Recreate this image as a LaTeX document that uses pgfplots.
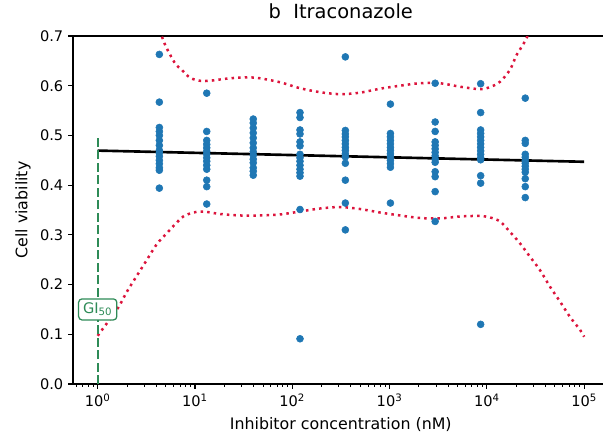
\documentclass[border=0pt]{standalone}
\usepackage{fontspec}
\setmainfont{DejaVu Sans}
\usepackage{pgfplots}
\usepackage{pgfplotstable}
\pgfplotsset{compat=1.18}
\definecolor{tabblue}{HTML}{1F77B4}
\definecolor{crim}{HTML}{DC143C}
\definecolor{sgreen}{HTML}{2E8B57}

\pgfplotstableread{
x y
4.3 0.663
4.3 0.567
4.3 0.516
4.3 0.508
4.3 0.500
4.3 0.490
4.3 0.480
4.3 0.470
4.3 0.465
4.3 0.458
4.3 0.450
4.3 0.443
4.3 0.435
4.3 0.430
4.3 0.394
13.2 0.585
13.2 0.508
13.2 0.490
13.2 0.482
13.2 0.475
13.2 0.468
13.2 0.462
13.2 0.455
13.2 0.448
13.2 0.440
13.2 0.432
13.2 0.410
13.2 0.397
13.2 0.362
39.7 0.533
39.7 0.525
39.7 0.515
39.7 0.505
39.7 0.495
39.7 0.485
39.7 0.475
39.7 0.467
39.7 0.460
39.7 0.452
39.7 0.445
39.7 0.435
39.7 0.428
39.7 0.420
120 0.546
120 0.536
120 0.511
120 0.503
120 0.487
120 0.479
120 0.462
120 0.455
120 0.448
120 0.440
120 0.432
120 0.425
120 0.418
120 0.351
120 0.091
351 0.658
351 0.510
351 0.503
351 0.497
351 0.490
351 0.483
351 0.476
351 0.470
351 0.463
351 0.457
351 0.444
351 0.410
351 0.364
351 0.310
1020 0.563
1020 0.504
1020 0.497
1020 0.490
1020 0.483
1020 0.476
1020 0.470
1020 0.463
1020 0.457
1020 0.450
1020 0.443
1020 0.436
1020 0.364
2940 0.605
2940 0.527
2940 0.508
2940 0.487
2940 0.480
2940 0.473
2940 0.466
2940 0.459
2940 0.452
2940 0.446
2940 0.427
2940 0.417
2940 0.387
2940 0.327
8630 0.604
8630 0.546
8630 0.511
8630 0.504
8630 0.497
8630 0.490
8630 0.483
8630 0.476
8630 0.469
8630 0.462
8630 0.455
8630 0.451
8630 0.419
8630 0.404
8630 0.120
24800 0.575
24800 0.490
24800 0.484
24800 0.462
24800 0.456
24800 0.450
24800 0.444
24800 0.438
24800 0.432
24800 0.426
24800 0.413
24800 0.397
24800 0.375
}\pointsdata

\pgfplotstableread{
L v
0.00 1.02
0.30 0.88
0.50 0.775
0.657 0.700
0.70 0.679
0.795 0.645
0.863 0.632
0.949 0.616
1.051 0.610
1.154 0.610
1.36 0.615
1.565 0.617
1.668 0.615
1.874 0.607
2.079 0.595
2.285 0.587
2.49 0.583
2.696 0.586
2.901 0.594
3.107 0.600
3.31 0.605
3.518 0.605
3.724 0.598
3.929 0.593
4.03 0.597
4.135 0.608
4.237 0.632
4.306 0.662
4.39 0.689
4.50 0.735
4.70 0.83
5.00 0.98
}\upperband

\pgfplotstableread{
L v
0.0 0.097
0.086 0.12
0.212 0.154
0.298 0.185
0.40 0.217
0.503 0.249
0.606 0.281
0.709 0.303
0.794 0.321
0.88 0.337
0.983 0.345
1.085 0.347
1.257 0.342
1.462 0.339
1.668 0.339
1.874 0.341
2.079 0.347
2.285 0.353
2.49 0.356
2.696 0.352
2.901 0.345
3.107 0.339
3.31 0.334
3.518 0.333
3.724 0.337
3.929 0.338
4.032 0.335
4.135 0.327
4.237 0.306
4.34 0.283
4.443 0.256
4.546 0.229
4.648 0.196
4.751 0.166
4.854 0.135
4.957 0.109
5.0 0.095
}\lowerband

\begin{document}
\begin{tikzpicture}
\useasboundingbox (-52.56pt,-37.44pt) rectangle (381.6pt,276.48pt);
\begin{axis}[
  scale only axis,
  width=385.56pt, height=250.56pt,
  xmode=log, log basis x=10,
  xmin=0.5572, xmax=177828,
  ymin=0, ymax=0.7,
  axis line style={line width=0.8pt},
  tick align=outside,
  tick pos=left,
  major tick length=3.5pt,
  minor tick length=2pt,
  every tick/.style={black, line width=0.8pt},
  every minor tick/.style={black, line width=0.6pt},
  tick label style={font=\fontsize{10.5}{12}\selectfont},
  xtick={1,10,100,1000,10000,100000},
  xticklabels={10\textsuperscript{0},10\textsuperscript{1},10\textsuperscript{2},10\textsuperscript{3},10\textsuperscript{4},10\textsuperscript{5}},
  minor xtick={0.6,0.7,0.8,0.9,2,3,4,5,6,7,8,9,20,30,40,50,60,70,80,90,200,300,400,500,600,700,800,900,2000,3000,4000,5000,6000,7000,8000,9000,20000,30000,40000,50000,60000,70000,80000,90000},
  ytick={0,0.1,0.2,0.3,0.4,0.5,0.6,0.7},
  yticklabel style={/pgf/number format/.cd, fixed, fixed zerofill, precision=1, assume math mode=true},
  title={b\ \ Itraconazole},
  title style={font=\fontsize{14}{16}\selectfont, at={(axis description cs:0.5,1)}, anchor=base, yshift=6.7pt},
  xlabel={Inhibitor concentration (nM)},
  xlabel style={font=\fontsize{11.4}{13}\selectfont, at={(axis description cs:0.5,0)}, anchor=base, yshift=-33.1pt},
  ylabel={Cell viability},
  ylabel style={font=\fontsize{11.4}{13}\selectfont, at={(axis description cs:-0.0853,0.5)}, anchor=base},
]
\addplot[only marks, mark=*, mark size=2.5pt, color=tabblue, mark options={draw=tabblue, fill=tabblue}] table[x=x, y=y] {\pointsdata};
\addplot[black, line width=1.9pt] coordinates {(1,0.4695) (100000,0.447)};
\addplot[crim, line width=1.8pt, dash pattern=on 1.8pt off 2.97pt, smooth] table[x expr=10^\thisrow{L}, y=v] {\upperband};
\addplot[crim, line width=1.8pt, dash pattern=on 1.8pt off 2.97pt, smooth] table[x expr=10^\thisrow{L}, y=v] {\lowerband};
\addplot[sgreen, line width=1.7pt, dash pattern=on 6.3pt off 2.7pt] coordinates {(1,0) (1,0.5)};
\node[draw=sgreen, line width=0.9pt, fill=white, rounded corners=2.5pt, text=sgreen, inner xsep=3.2pt, inner ysep=2.8pt, font=\fontsize{10.5}{12}\selectfont] at (axis cs:1,0.15) {GI\textsubscript{50}};
\end{axis}
\end{tikzpicture}
\end{document}
